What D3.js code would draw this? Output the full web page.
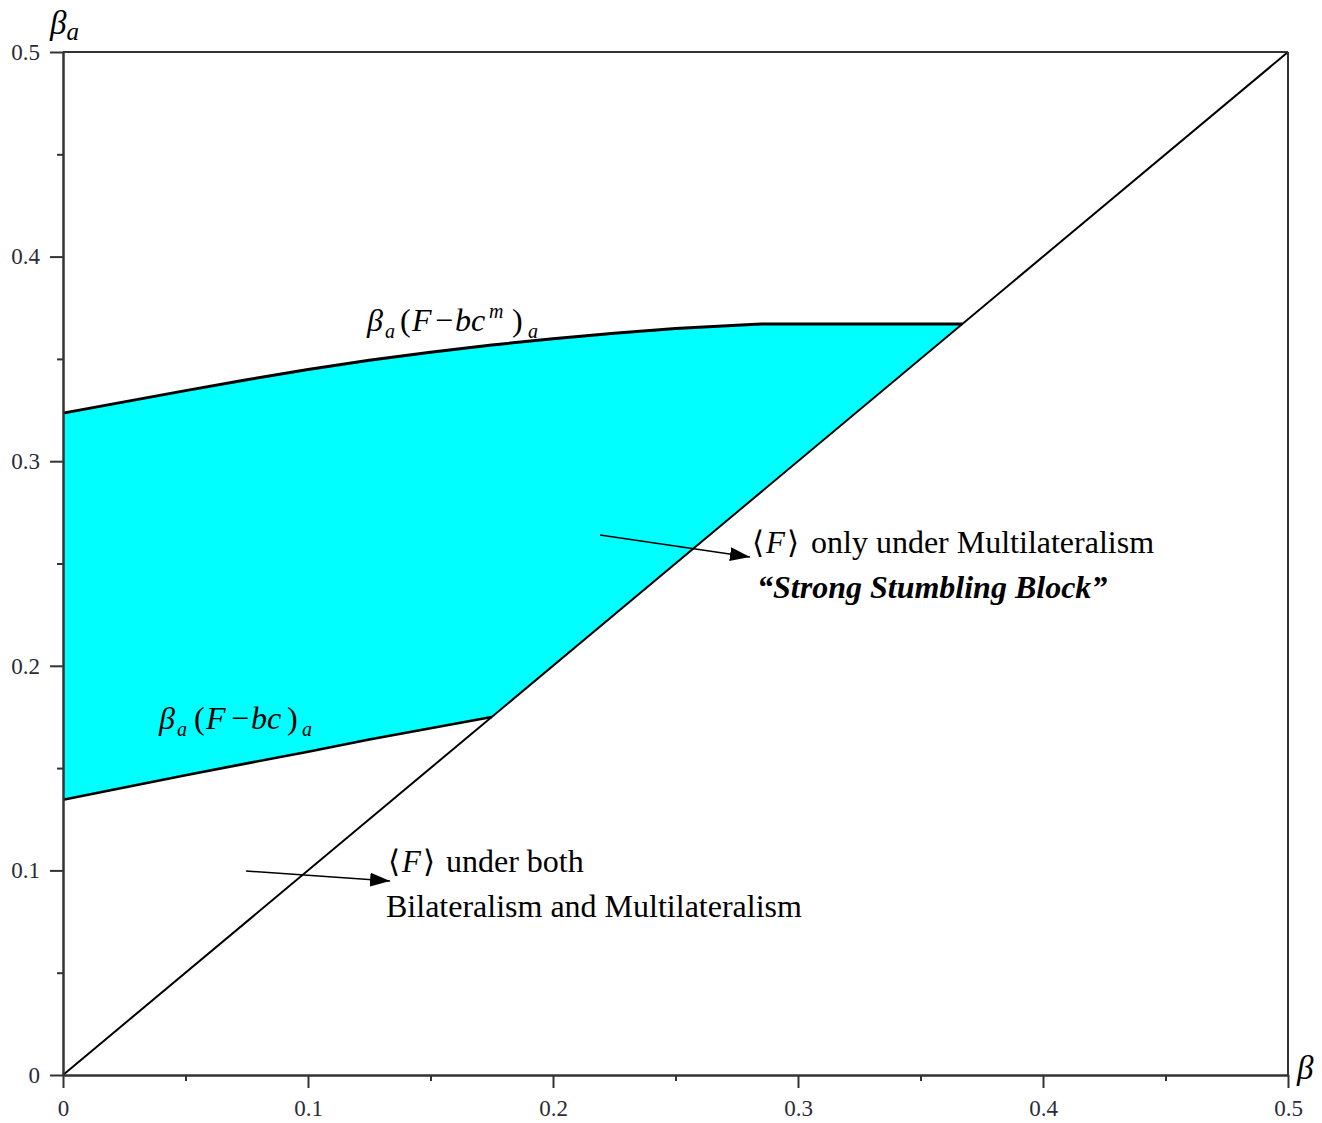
<!DOCTYPE html>
<html><head><meta charset="utf-8">
<script src="https://cdn.jsdelivr.net/npm/d3@7"></script>
<style>
html,body{margin:0;padding:0;background:#fff;}
svg text{font-family:"Liberation Serif","Times New Roman",serif;}
</style></head>
<body>
<svg id="chart" width="1322" height="1123"></svg>
<script>
// ---- data ----
const xTicks = [0, 0.1, 0.2, 0.3, 0.4, 0.5];
const yTicks = [0, 0.1, 0.2, 0.3, 0.4, 0.5];
const xMinor = [0.05, 0.15, 0.25, 0.35, 0.45];
const yMinor = [0.05, 0.15, 0.25, 0.35, 0.45];
const tickLabels = ["0", "0.1", "0.2", "0.3", "0.4", "0.5"];

// upper boundary beta_a(F - bc^m)_a
const upperBeta  = [0, 0.025, 0.05, 0.075, 0.1, 0.125, 0.15, 0.175, 0.2, 0.225, 0.25, 0.275, 0.285, 0.3, 0.325, 0.35, 0.367];
const upperBetaA = [0.3235, 0.329, 0.3345, 0.3398, 0.3448, 0.3493, 0.3533, 0.3568, 0.3598, 0.3625, 0.3648, 0.3665, 0.367, 0.367, 0.367, 0.367, 0.367];
// lower boundary beta_a(F - bc)_a
const lowerBeta  = [0, 0.025, 0.05, 0.075, 0.1, 0.125, 0.15, 0.175];
const lowerBetaA = [0.1345, 0.1405, 0.1465, 0.1523, 0.1580, 0.1640, 0.1695, 0.1750];
// 45-degree line beta_a = beta
const diagBeta = [0, 0.5];

// annotation arrows (data coords)
const arrows = [
  {from: [0.2192, 0.2639], to: [0.2804, 0.2532]},
  {from: [0.0747, 0.0997], to: [0.1335, 0.0948]}
];

// ---- chart ----
const svg = d3.select("#chart");
const x = d3.scaleLinear().domain([0, 0.5]).range([63, 1288]);
const y = d3.scaleLinear().domain([0, 0.5]).range([1075, 52]);

const line = d3.line().x(d => x(d[0])).y(d => y(d[1]));

const upper = upperBeta.map((b, i) => [b, upperBetaA[i]]);
const lower = lowerBeta.map((b, i) => [b, lowerBetaA[i]]);
const diag = diagBeta.map(b => [b, b]);

// shaded region
const region = upper.concat([[lowerBeta[lowerBeta.length - 1], lowerBeta[lowerBeta.length - 1]]])
  .concat(lower.slice().reverse());
svg.append("path").attr("d", line(region) + "Z")
  .attr("fill", "#00ffff").attr("stroke", "none");

// diagonal
svg.append("path").attr("d", line(diag))
  .attr("fill", "none").attr("stroke", "#000").attr("stroke-width", 2);

// boundaries
svg.append("path").attr("d", line(upper))
  .attr("fill", "none").attr("stroke", "#000").attr("stroke-width", 3);
svg.append("path").attr("d", line(lower))
  .attr("fill", "none").attr("stroke", "#000").attr("stroke-width", 2.6);

// axes
const axisColor = "#333";
const fmt = d => tickLabels[xTicks.indexOf(d)];
const gx = svg.append("g").attr("transform", `translate(0,${y(0)})`)
  .call(d3.axisBottom(x).tickValues(xTicks).tickSize(13).tickSizeOuter(0).tickPadding(12).tickFormat(fmt));
const gxm = svg.append("g").attr("transform", `translate(0,${y(0)})`)
  .call(d3.axisBottom(x).tickValues(xMinor).tickSize(6).tickSizeOuter(0).tickFormat(""));
const gy = svg.append("g").attr("transform", `translate(${x(0)},0)`)
  .call(d3.axisLeft(y).tickValues(yTicks).tickSize(13).tickSizeOuter(0).tickPadding(10).tickFormat(fmt));
const gym = svg.append("g").attr("transform", `translate(${x(0)},0)`)
  .call(d3.axisLeft(y).tickValues(yMinor).tickSize(6).tickSizeOuter(0).tickFormat(""));
// top & right border
svg.append("line").attr("x1", x(0)).attr("x2", x(0.5)).attr("y1", y(0.5)).attr("y2", y(0.5))
  .attr("stroke", axisColor).attr("stroke-width", 2);
svg.append("line").attr("x1", x(0.5)).attr("x2", x(0.5)).attr("y1", y(0.5)).attr("y2", y(0))
  .attr("stroke", axisColor).attr("stroke-width", 2);

[gx, gxm, gy, gym].forEach(g => {
  g.selectAll("path.domain").attr("stroke", axisColor).attr("stroke-width", 2);
  g.selectAll(".tick line").attr("stroke", axisColor).attr("stroke-width", 2);
  g.selectAll(".tick text").attr("font-size", 23).attr("fill", "#2a2a3a");
});

// axis titles
const bt = svg.append("text").attr("x", 50).attr("y", 34)
  .attr("font-size", 33).attr("font-style", "italic");
bt.append("tspan").text("β");
bt.append("tspan").attr("font-size", 25).attr("dy", 6).text("a");
svg.append("text").attr("x", 1297).attr("y", 1079)
  .attr("font-size", 33).attr("font-style", "italic").text("β");

// curve labels (pieces placed at absolute positions)
function mathLabel(py, parts) {
  const t = svg.append("text").attr("font-size", 32);
  parts.forEach(p => {
    const s = t.append("tspan").attr("x", p.x).attr("y", py + (p.dy || 0)).text(p.t);
    if (p.i) s.attr("font-style", "italic");
    if (p.fs) s.attr("font-size", p.fs);
  });
  return t;
}
mathLabel(331, [
  {t: "β", i: true, x: 367}, {t: "a", i: true, fs: 20, dy: 7, x: 385},
  {t: "(", x: 400}, {t: "F", i: true, x: 412}, {t: "−", x: 435},
  {t: "bc", i: true, x: 455}, {t: "m", i: true, fs: 20, dy: -13, x: 489},
  {t: ")", x: 512}, {t: "a", i: true, fs: 20, dy: 7, x: 528}
]);
mathLabel(729, [
  {t: "β", i: true, x: 159}, {t: "a", i: true, fs: 20, dy: 7, x: 177},
  {t: "(", x: 194}, {t: "F", i: true, x: 206}, {t: "−", x: 231},
  {t: "bc", i: true, x: 251}, {t: ")", x: 287},
  {t: "a", i: true, fs: 20, dy: 7, x: 302}
]);

// arrows
svg.append("defs").append("marker").attr("id", "ah")
  .attr("viewBox", "0 0 20 14").attr("refX", 20).attr("refY", 7)
  .attr("markerWidth", 20).attr("markerHeight", 14).attr("markerUnits", "userSpaceOnUse")
  .attr("orient", "auto")
  .append("path").attr("d", "M0,0L20,7L0,14Z").attr("fill", "#000");
arrows.forEach(a => {
  svg.append("line").attr("x1", x(a.from[0])).attr("y1", y(a.from[1]))
    .attr("x2", x(a.to[0])).attr("y2", y(a.to[1]))
    .attr("stroke", "#000").attr("stroke-width", 1.4).attr("marker-end", "url(#ah)");
});

// annotation texts
function bracketF(px, py) {
  const t = svg.append("text").attr("x", px).attr("y", py).attr("font-size", 31);
  t.append("tspan").attr("font-family", "DejaVu Serif").attr("font-weight", 200).text("\u27E8");
  t.append("tspan").attr("font-style", "italic").attr("dx", 2).text("F");
  t.append("tspan").attr("font-family", "DejaVu Serif").attr("font-weight", 200).attr("dx", 2).text("\u27E9");
}
bracketF(752, 553);
svg.append("text").attr("x", 811).attr("y", 553).attr("font-size", 32).text("only under Multilateralism");
svg.append("text").attr("x", 757).attr("y", 598).attr("font-size", 32)
  .attr("font-weight", "bold").attr("font-style", "italic").text("“Strong Stumbling Block”");
bracketF(388, 872);
svg.append("text").attr("x", 446).attr("y", 872).attr("font-size", 32).text("under both");
svg.append("text").attr("x", 386).attr("y", 917).attr("font-size", 32).text("Bilateralism and Multilateralism");
</script>
</body></html>
